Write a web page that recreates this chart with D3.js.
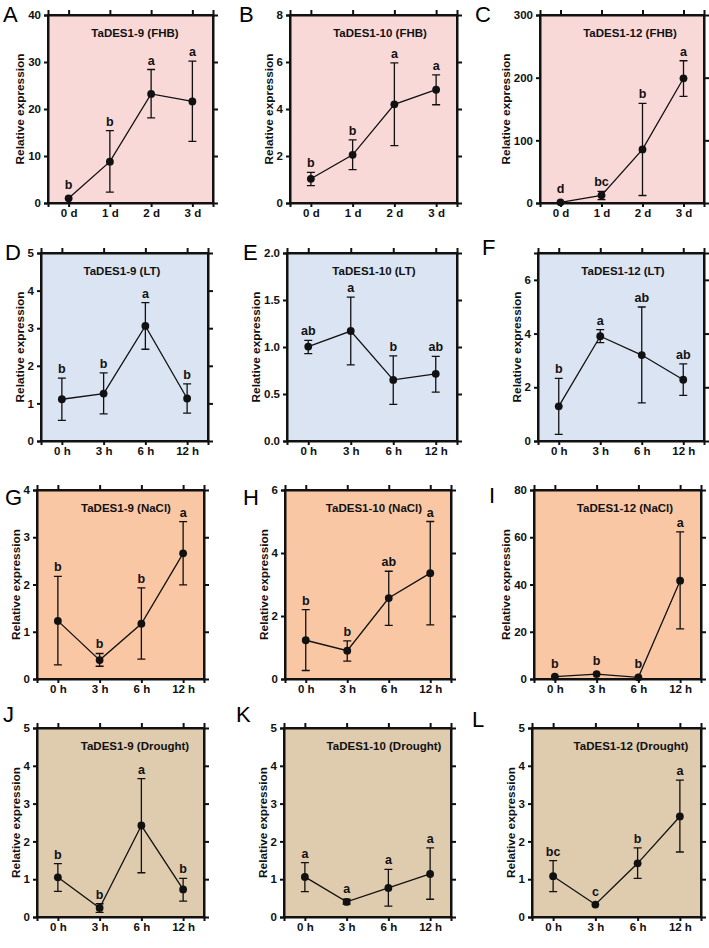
<!DOCTYPE html>
<html>
<head>
<meta charset="utf-8">
<script src="https://cdn.jsdelivr.net/npm/d3@7"></script>
<style>
  body { margin: 0; background: #fff; }
  svg text { font-family: Arial, "Liberation Sans", sans-serif; }
</style>
</head>
<body>
<svg id="fig" width="709" height="948"></svg>
<script>
'use strict';

// ---- data ----
var dayLabels = ['0 d', '1 d', '2 d', '3 d'],
    hourLabels = ['0 h', '3 h', '6 h', '12 h'];

var panelLetters = ['A', 'B', 'C', 'D', 'E', 'F', 'G', 'H', 'I', 'J', 'K', 'L'];

var panelTitles = [
  'TaDES1-9 (FHB)', 'TaDES1-10 (FHB)', 'TaDES1-12 (FHB)',
  'TaDES1-9 (LT)', 'TaDES1-10 (LT)', 'TaDES1-12 (LT)',
  'TaDES1-9 (NaCl)', 'TaDES1-10 (NaCl)', 'TaDES1-12 (NaCl)',
  'TaDES1-9 (Drought)', 'TaDES1-10 (Drought)', 'TaDES1-12 (Drought)'
];

// FHB (days)
var fhbMean = [[1.0, 8.8, 23.2, 21.6], [1.03, 2.05, 4.2, 4.82], [1.0, 12.2, 85.5, 199]];
var fhbLow = [[1.0, 2.3, 18.1, 13.1], [0.74, 1.42, 2.44, 4.18], [1.0, 5.3, 12, 170]];
var fhbHigh = [[1.0, 15.4, 28.4, 30.2], [1.30, 2.69, 5.96, 5.45], [1.0, 18.6, 159, 227]];
var fhbLetters = [['b', 'b', 'a', 'a'], ['b', 'b', 'a', 'a'], ['d', 'bc', 'b', 'a']];

// low temperature (hours)
var ltMean = [[1.11, 1.26, 3.06, 1.13], [1.005, 1.17, 0.65, 0.715], [1.29, 3.90, 3.2, 2.28]];
var ltLow = [[0.55, 0.72, 2.44, 0.74], [0.93, 0.81, 0.39, 0.52], [0.25, 3.66, 1.42, 1.70]];
var ltHigh = [[1.67, 1.81, 3.68, 1.52], [1.07, 1.53, 0.906, 0.90], [2.33, 4.15, 4.99, 2.87]];
var ltLetters = [['b', 'b', 'a', 'b'], ['ab', 'a', 'b', 'ab'], ['b', 'a', 'ab', 'ab']];

// NaCl (hours)
var naclMean = [[1.23, 0.40, 1.17, 2.66], [1.23, 0.90, 2.57, 3.36], [1.0, 2.1, 0.7, 41.6]];
var naclLow = [[0.30, 0.27, 0.42, 1.99], [0.27, 0.57, 1.70, 1.72], [1.0, 2.1, 0.7, 21.2]];
var naclHigh = [[2.17, 0.54, 1.93, 3.33], [2.20, 1.21, 3.42, 5.0], [1.0, 2.1, 0.7, 62.3]];
var naclLetters = [['b', 'b', 'b', 'a'], ['b', 'b', 'ab', 'a'], ['b', 'b', 'b', 'a']];

// drought (hours)
var droughtMean = [[1.05, 0.24, 2.42, 0.73], [1.06, 0.40, 0.77, 1.14], [1.08, 0.33, 1.42, 2.66]];
var droughtLow = [[0.68, 0.12, 1.17, 0.42], [0.67, 0.34, 0.29, 0.47], [0.67, 0.33, 1.02, 1.72]];
var droughtHigh = [[1.41, 0.35, 3.66, 1.02], [1.44, 0.47, 1.26, 1.83], [1.49, 0.33, 1.83, 3.62]];
var droughtLetters = [['b', 'b', 'a', 'b'], ['a', 'a', 'a', 'a'], ['bc', 'c', 'b', 'a']];

var yMax = [40, 8, 300, 5, 2, 7, 4, 6, 80, 5, 5, 5],
    yStep = [10, 2, 100, 1, 0.5, 2, 1, 2, 20, 1, 1, 1];

// ---- layout ----
var rowFill = ['#f9d9d8', '#dbe4f3', '#f9c7a3', '#dfcbae'];

var boxes = [
  [48, 213, 15, 203], [290, 457, 15, 203], [540, 704, 15, 203],
  [41, 208, 253, 441], [287, 457, 253, 441], [538, 704, 253, 441],
  [37, 204, 490, 679], [285, 451, 490, 679], [534, 701, 490, 679],
  [37, 204, 728, 917], [284, 451, 728, 917], [532, 701, 728, 917]
];
var titleX = [135, 380, 630, 122, 374, 623, 126, 374, 625, 135, 384, 631];
var letterPos = [
  [3, 22], [239, 22], [475, 22],
  [5, 260], [243, 260], [482, 255],
  [5, 505], [243, 505], [489, 503],
  [3, 722], [236, 722], [472, 727]
];

var FONT = 'Arial, "Liberation Sans", sans-serif';

var svg = d3.select('#fig');

var rows = [
  {cats: dayLabels, mean: fhbMean, low: fhbLow, high: fhbHigh, letters: fhbLetters},
  {cats: hourLabels, mean: ltMean, low: ltLow, high: ltHigh, letters: ltLetters},
  {cats: hourLabels, mean: naclMean, low: naclLow, high: naclHigh, letters: naclLetters},
  {cats: hourLabels, mean: droughtMean, low: droughtLow, high: droughtHigh, letters: droughtLetters}
];

var styleText = function (sel, size) {
  sel.attr('font-size', size).attr('font-weight', 'bold')
      .attr('font-family', FONT).attr('fill', '#111');
};

var drawPanel = function (i) {
  var row = rows[Math.floor(i / 3)],
      k = i % 3,
      b = boxes[i],
      left = b[0], right = b[1], top = b[2], bottom = b[3],
      g, yAxisG, x, y, ticks, fmt, pts, labelLeft;

  x = d3.scalePoint().domain(row.cats).range([left, right]).padding(0.5);
  y = d3.scaleLinear().domain([0, yMax[i]]).range([bottom, top]);
  ticks = d3.range(0, yMax[i] + 1e-9, yStep[i]);
  fmt = yStep[i] < 1 ? d3.format('.1f') : d3.format('d');

  pts = row.cats.map(function (c, j) {
    return {
      cat: c,
      mean: row.mean[k][j],
      low: row.low[k][j],
      high: row.high[k][j],
      letter: row.letters[k][j]
    };
  });

  g = svg.append('g').attr('class', 'panel');

  g.append('rect')
      .attr('x', left).attr('y', top)
      .attr('width', right - left).attr('height', bottom - top)
      .attr('fill', rowFill[Math.floor(i / 3)]);

  // axes: left + bottom with labels, mirrored ticks on top + right
  yAxisG = g.append('g')
      .attr('transform', 'translate(' + left + ',0)')
      .call(d3.axisLeft(y).tickValues(ticks).tickFormat(fmt).tickSize(4).tickPadding(3));
  styleText(yAxisG.selectAll('text'), 11.5);

  g.append('g')
      .attr('transform', 'translate(0,' + bottom + ')')
      .call(d3.axisBottom(x).tickSize(4).tickPadding(2))
      .call(function (a) { styleText(a.selectAll('text'), 11.5); });
  g.append('g')
      .attr('transform', 'translate(0,' + top + ')')
      .call(d3.axisTop(x).tickSize(5).tickFormat(''));
  g.append('g')
      .attr('transform', 'translate(' + right + ',0)')
      .call(d3.axisRight(y).tickValues(ticks.filter(function (t) {
        return t > 0 && t < yMax[i];
      })).tickSize(5).tickFormat(''));

  g.selectAll('.domain').attr('stroke', '#111').attr('stroke-width', 2);
  g.selectAll('.tick line').attr('stroke', '#111').attr('stroke-width', 2);

  // frame on top of the fill
  g.append('rect')
      .attr('x', left).attr('y', top)
      .attr('width', right - left).attr('height', bottom - top)
      .attr('fill', 'none').attr('stroke', '#111').attr('stroke-width', 2);

  // error bars
  pts.forEach(function (p) {
    var px = x(p.cat),
        y0 = y(p.low),
        y1 = y(p.high),
        w = 4;

    if (y0 - y1 < 2) {
      return;
    }
    g.append('path')
        .attr('fill', 'none').attr('stroke', '#111').attr('stroke-width', 1.3)
        .attr('d',
            'M ' + (px - w) + ' ' + y0 +
            'L ' + (px + w) + ' ' + y0 +
            'M ' + (px - w) + ' ' + y1 +
            'L ' + (px + w) + ' ' + y1 +
            'M ' + px + ' ' + y0 +
            'L ' + px + ' ' + y1);
  });

  g.append('path')
      .datum(pts)
      .attr('fill', 'none').attr('stroke', '#111').attr('stroke-width', 1.3)
      .attr('d', d3.line()
          .x(function (d) { return x(d.cat); })
          .y(function (d) { return y(d.mean); }));

  g.selectAll('circle.pt')
      .data(pts)
      .enter().append('circle')
      .attr('class', 'pt')
      .attr('cx', function (d) { return x(d.cat); })
      .attr('cy', function (d) { return y(d.mean); })
      .attr('r', 3.9)
      .attr('fill', '#111');

  // significance letters
  g.selectAll('text.sig')
      .data(pts)
      .enter().append('text')
      .attr('class', 'sig')
      .attr('x', function (d) { return x(d.cat); })
      .attr('y', function (d) { return Math.min(y(d.high), y(d.mean) - 4) - 5; })
      .attr('text-anchor', 'middle')
      .call(styleText, 12.5)
      .text(function (d) { return d.letter; });

  // title inside the plot
  g.append('text')
      .attr('x', titleX[i]).attr('y', top + 22)
      .attr('text-anchor', 'middle')
      .call(styleText, 11.5)
      .text(panelTitles[i]);

  // y-axis title, placed just left of the widest tick label
  labelLeft = d3.min(yAxisG.selectAll('text').nodes(), function (n) {
    return n.getBBox().x;
  }) + left;
  g.append('text')
      .attr('transform', 'translate(' + (labelLeft - 4) + ',' + ((top + bottom) / 2) + ') rotate(-90)')
      .attr('text-anchor', 'middle')
      .call(styleText, 11.8)
      .text('Relative expression');

  // panel letter
  svg.append('text')
      .attr('x', letterPos[i][0]).attr('y', letterPos[i][1])
      .attr('font-size', 22).attr('font-family', FONT).attr('fill', '#000')
      .text(panelLetters[i]);
};

d3.range(12).forEach(drawPanel);
</script>
</body>
</html>
